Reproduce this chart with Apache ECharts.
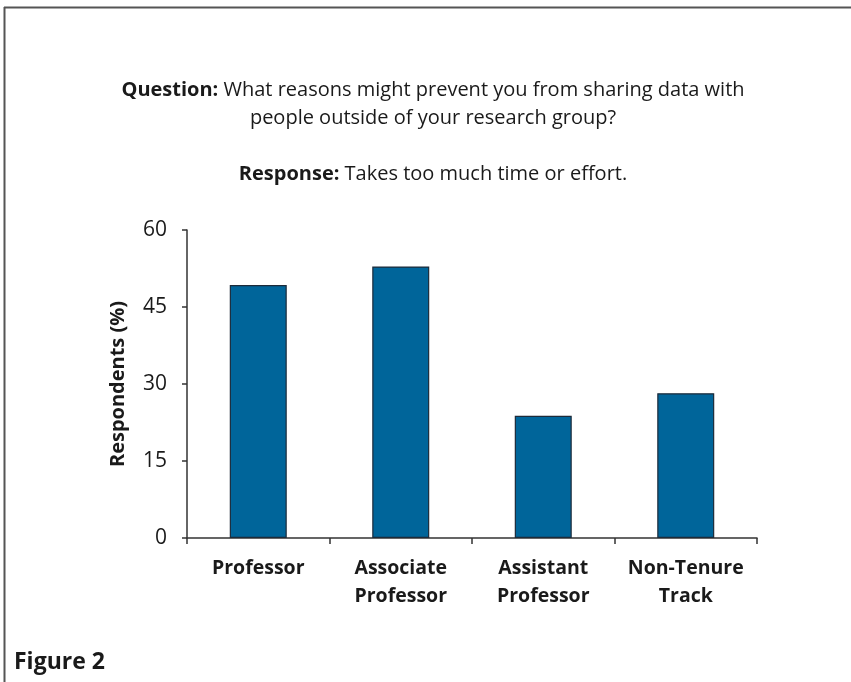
<!DOCTYPE html>
<html>
<head>
<meta charset="utf-8">
<script src="https://cdn.jsdelivr.net/npm/echarts@6/dist/echarts.min.js"></script>
<style>
html,body{margin:0;padding:0;background:#fff;}
#chart{width:851px;height:682px;}
</style>
</head>
<body>
<div id="chart"></div>
<script>
const categories = ['Professor', 'Associate\nProfessor', 'Assistant\nProfessor', 'Non-Tenure\nTrack'];
const values = [49.3, 52.9, 23.8, 28.2];
const yTicks = { min: 0, max: 60, interval: 15 };
const titleText = '{b|Question:} What reasons might prevent you from sharing data with\npeople outside of your research group?\n\n{b|Response:} Takes too much time or effort.';
const yName = 'Respondents (%)';
const figureLabel = 'Figure 2';

const FONT = '"Open Sans", sans-serif';
const chart = echarts.init(document.getElementById('chart'), null, { renderer: 'canvas' });
chart.setOption({
  animation: false,
  backgroundColor: '#ffffff',
  title: {
    text: titleText,
    left: 428,
    top: 71,
    textAlign: 'center',
    textStyle: {
      fontFamily: FONT, fontSize: 20, fontWeight: 'normal', color: '#1a1a1a', lineHeight: 28,
      rich: { b: { fontFamily: FONT, fontSize: 20, fontWeight: 'bold', color: '#1a1a1a', lineHeight: 28 } }
    }
  },
  grid: { left: 187, right: 94, top: 230, bottom: 144, containLabel: false },
  xAxis: {
    type: 'category',
    data: categories,
    axisLine: { show: true, lineStyle: { color: '#333', width: 1.5 } },
    axisTick: { show: true, interval: 0, alignWithLabel: false, length: 6, lineStyle: { color: '#333', width: 1.5 } },
    axisLabel: { interval: 0, hideOverlap: false, fontFamily: FONT, fontSize: 19.5, fontWeight: 'bold', color: '#1a1a1a', lineHeight: 28, margin: 16 }
  },
  yAxis: {
    type: 'value',
    min: yTicks.min, max: yTicks.max, interval: yTicks.interval,
    name: yName,
    nameLocation: 'middle',
    nameRotate: 90,
    nameGap: 59,
    nameTextStyle: { fontFamily: FONT, fontSize: 20, fontWeight: 'bold', color: '#1a1a1a' },
    axisLine: { show: true, lineStyle: { color: '#333', width: 1.5 } },
    axisTick: { show: true, length: 5, lineStyle: { color: '#333', width: 1.5 } },
    splitLine: { show: false },
    axisLabel: { fontFamily: FONT, fontSize: 21, color: '#1a1a1a', margin: 20 }
  },
  series: [{
    type: 'bar',
    data: values,
    barWidth: '40%',
    itemStyle: { color: '#00659a', borderColor: '#1c2b3a', borderWidth: 1.2 }
  }],
  graphic: [
    { type: 'line', shape: { x1: 4, y1: 7.5, x2: 851, y2: 7.5 }, style: { stroke: '#555', lineWidth: 2 } },
    { type: 'line', shape: { x1: 4.5, y1: 7, x2: 4.5, y2: 682 }, style: { stroke: '#555', lineWidth: 2 } },
    { type: 'text', left: 14, top: 651, style: { text: figureLabel, fontFamily: FONT, fontSize: 23, fontWeight: 'bold', fill: '#1a1a1a' } }
  ]
});
</script>
</body>
</html>
